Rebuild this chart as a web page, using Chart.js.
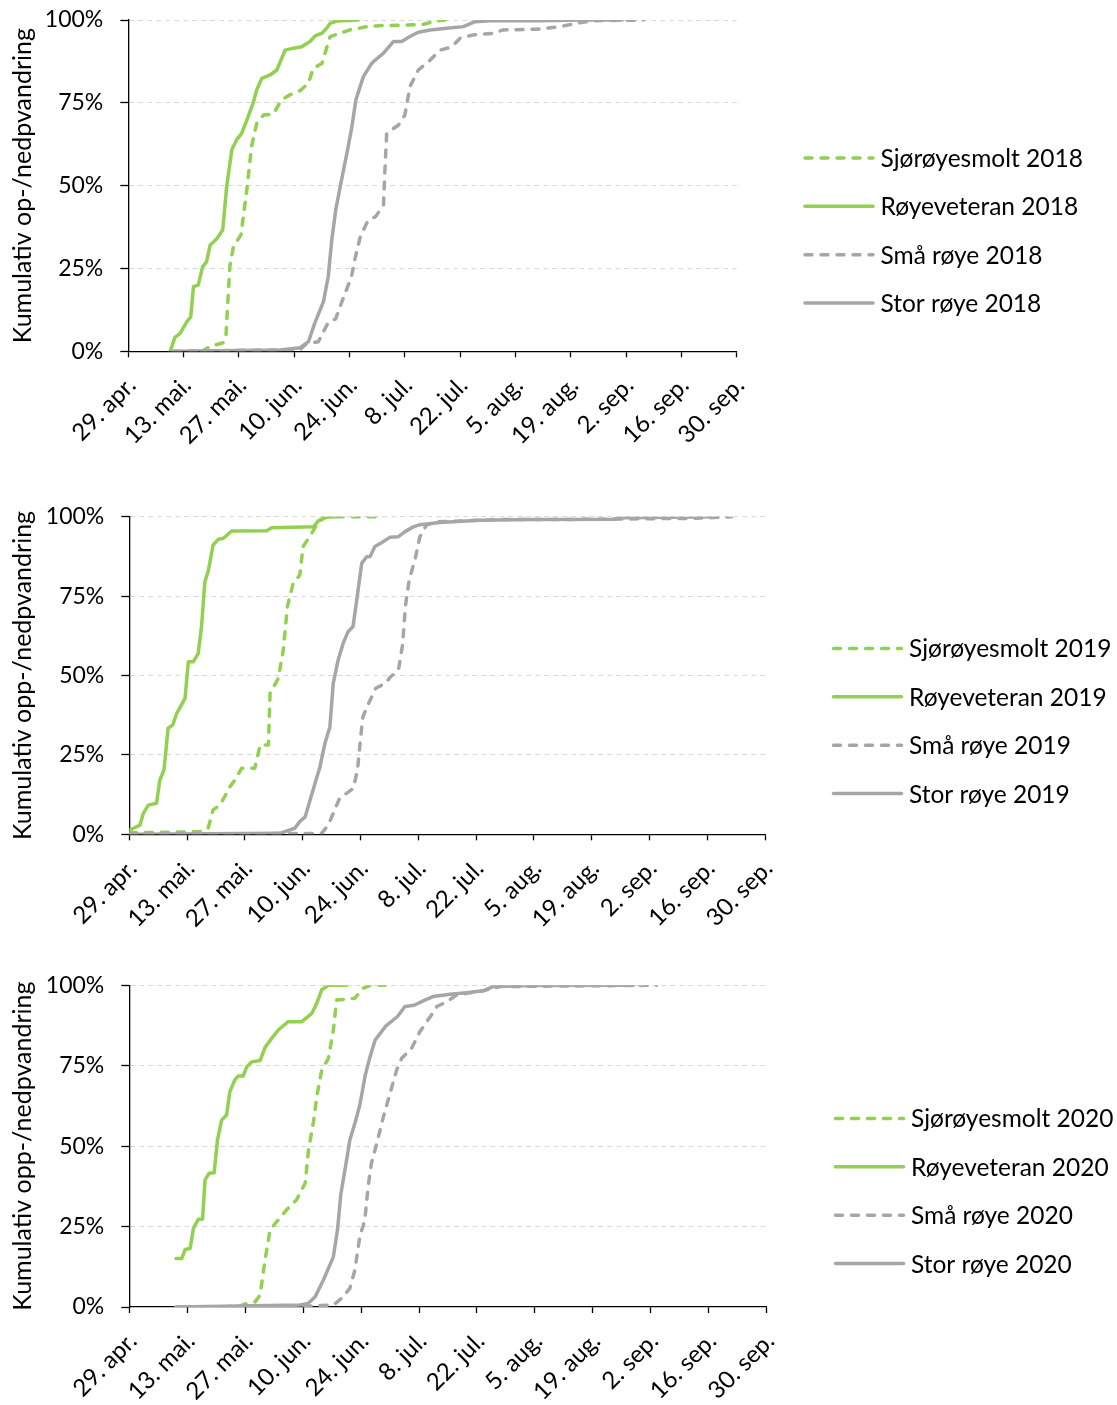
<!DOCTYPE html>
<html lang="no">
<head>
<meta charset="utf-8">
<title>Kumulativ opp-/nedpvandring 2018–2020</title>
<script src="https://cdn.jsdelivr.net/npm/chart.js@4.4.1/dist/chart.umd.min.js"></script>
<style>
  html, body { margin: 0; padding: 0; background: #fff; }
  #wrap { position: relative; width: 1117px; height: 1405px; overflow: hidden; }
  canvas { position: absolute; left: 0; }
</style>
</head>
<body>
<div id="wrap">
  <canvas id="c2018" width="1117" height="468" style="top:0px"></canvas>
  <canvas id="c2019" width="1117" height="468" style="top:468px"></canvas>
  <canvas id="c2020" width="1117" height="480" style="top:936px"></canvas>
</div>
<script>
// x values are days counted from 29 April; y values are cumulative percent.
const tickLabels = ['29. apr.', '13. mai.', '27. mai.', '10. jun.', '24. jun.', '8. jul.',
                    '22. jul.', '5. aug.', '19. aug.', '2. sep.', '16. sep.', '30. sep.'];
const seriesNames = ['Sjørøyesmolt', 'Røyeveteran', 'Små røye', 'Stor røye'];
const years = [2018, 2019, 2020];

// 2018
const smolt2018 = [[18.6,0],[20.7,1.4],[24,2.6],[24.7,4.4],[25.7,25.5],[26.6,31.6],[28.5,35.1],[30,48.7],
  [31.2,61.8],[32.5,68.8],[34.2,71.3],[36.7,71.6],[38.8,75.9],[40.9,77.4],[43.5,78.7],[45.6,80.9],
  [46.8,85.4],[49,86.9],[51.1,95],[53.6,96],[56.1,97],[60.4,98],[63.7,98.3],[68,98.4],[74.7,98.7],
  [78,99.7],[80.2,100]];
const veteran2018 = [[10.6,0],[11.8,4.2],[13.1,5.4],[14.8,8.9],[15.8,10.4],[16.5,19.5],[17.7,20],
  [18.8,25.5],[19.8,27],[20.7,32],[22.4,34],[23.9,36.6],[24.9,49.7],[26.2,60.8],[27.4,63.8],[28.7,65.8],
  [30,69.8],[31.6,74.9],[32.5,78.9],[33.8,82.4],[35.9,83.4],[37.6,84.9],[39.7,90.9],[41.8,91.5],
  [43.9,91.9],[46,93.5],[47.3,95.2],[49,96],[50.2,97.5],[51.1,99],[52.8,99.7],[58.2,100]];
const small2018 = [[11.4,0],[43.5,0.5],[45.2,2.4],[48.1,2.9],[50.6,8.7],[52.5,9.8],[54.7,17],[56.5,22.5],
  [57.2,27],[58.7,34.5],[60.6,39.3],[62.7,40.8],[64.6,44.2],[65,55.7],[65.4,65.8],[68.4,68.3],[70,71.3],
  [71.3,79.9],[73.4,84.9],[76.4,87.9],[78.9,90.9],[81.9,91.9],[84,94.5],[87.3,95.5],[92.4,96],[94.9,97],
  [103.4,97.2],[109.3,98],[114.3,99.2],[118.6,99.8],[130.4,100]];
const large2018 = [[11.4,0],[38.4,0.4],[43.5,1.1],[45.6,2.9],[47.2,8.5],[49.4,15],[50.6,22.5],[51.5,33.6],
  [52.5,42.6],[53.8,50.7],[55.5,60.8],[56.6,67.8],[57.6,75.9],[59.5,82.9],[61.6,86.9],[62.5,87.9],
  [64.6,90],[67.1,93.5],[69.2,93.5],[71.3,95],[73.4,96.3],[76.4,97],[80.6,97.5],[84.8,98],[87.8,99.5],
  [91.6,99.8],[104.2,99.8],[114.3,100],[125,100]];

// 2019
const smolt2019 = [[0,0.5],[17.1,0.8],[19.1,1.9],[20.3,7.7],[22,9.2],[24.4,15],[25.6,17.1],[27.2,20.8],
  [30.4,20.8],[31.7,28.1],[33.7,28.1],[34.1,44.4],[36.1,49.1],[37.3,58],[38.3,71.7],[39.7,79],[41.3,81.6],
  [42.1,90.6],[44.2,94.8],[45.8,98.4],[47.8,100],[61.5,100]];
const veteran2019 = [[0,1.4],[1,1.9],[2.6,2.9],[3.4,6.6],[4.6,9.2],[6.6,9.8],[7.4,17.1],[8.4,20.2],
  [9.4,33.4],[10.5,34.4],[11.5,38.1],[13.5,42.8],[14.3,54.3],[15.5,54.3],[16.7,57],[17.5,65.4],[18.3,79.5],
  [19.1,82.7],[20.3,91.1],[21.6,92.9],[22.8,93.2],[24.8,95.5],[33.3,95.6],[34.5,96.5],[44.6,96.8],
  [45.8,98.7],[47.4,99.8],[49.4,100],[50,100]];
const small2019 = [[0,0],[46.6,0.3],[48.2,2.9],[49.4,6.6],[51,11.5],[52.6,12.9],[54.3,14.5],[55.3,20.5],
  [56,30],[56.6,37],[57.8,40.7],[59.7,46],[62,47.5],[63.3,49.6],[65.2,51.7],[66.2,59.6],[66.9,72],
  [67.8,80.1],[69.2,86.4],[70.4,93.7],[72,97.4],[74.5,98.4],[80.9,98.7],[89,99.1],[105.1,99.1],
  [121.3,99.3],[137.4,99.5],[145.9,100]];
const large2019 = [[0,0],[36.5,0.3],[38.9,1.4],[40.1,1.9],[41.3,4],[42.6,5.5],[43.8,10.8],[45,16.1],
  [46.2,21.3],[47.4,28.7],[48.6,33.9],[49.4,47.5],[50.6,54.9],[51.8,60.1],[53,63.8],[54.2,65.4],[55.1,73.8],
  [56.3,85.3],[57.5,87.4],[58.3,87.4],[59.5,90.6],[61.1,91.8],[63.1,93.5],[65.2,93.7],[66.8,95.3],
  [68.8,96.8],[70.4,97.5],[75.2,98.2],[84.9,98.9],[97,99.1],[117.2,99.2],[119.6,99.7],[142.3,100]];

// 2020
const smolt2020 = [[26.6,0.3],[28.4,1.1],[30.4,1.6],[31.6,3.7],[32.8,14.6],[34,23.9],[35.6,26.5],[38,30.2],
  [40.4,33.3],[42.5,38.5],[43.3,48.8],[44.5,57.6],[45.3,65.4],[46.5,73.7],[48.1,77.3],[49.3,86.1],
  [50.1,95.4],[54.5,96],[56.5,99.1],[58.2,100],[61.8,100]];
const veteran2020 = [[11.3,15.1],[12.7,15.1],[13.5,17.9],[14.7,18.2],[15.5,24.5],[16.7,27.3],[17.7,27.3],
  [18.3,39.5],[19.3,41.6],[20.5,41.7],[21.3,51.9],[22.3,58.1],[23.5,59.7],[24.3,66.9],[25.5,70.6],
  [26.3,71.8],[27.5,71.8],[28.4,74.7],[29.6,76.2],[31.6,76.6],[32.8,80.7],[34.4,83.5],[36,86.1],
  [38.4,88.7],[41.7,88.7],[44.1,91.3],[45.3,94.4],[46.5,98.6],[48.1,100],[52.5,100]];
const small2020 = [[11.3,0],[43.7,0.3],[49.3,0.6],[51.3,2.7],[53.3,5.8],[54.5,11.5],[55.7,21.9],[56.9,27],
  [57.7,37.4],[58.5,44.7],[59.8,50.9],[61.4,59.2],[63,66.4],[64.6,73.7],[65.8,77.3],[68.2,80.4],
  [70.2,85.6],[72.7,90.2],[74.3,93.4],[76.7,94.9],[79.1,97],[85.5,98.3],[89.6,99.6],[105.7,99.8],
  [127.4,100]];
const large2020 = [[11.3,0],[41.2,0.6],[43.2,1.1],[44.9,3.2],[46.9,8.4],[49.3,15.6],[50.3,24],[51.1,35],
  [52.1,42.6],[53.3,52],[54.5,57.1],[55.7,62.8],[57,72],[58.1,77.5],[59.4,83],[62,87.4],[64.8,90.3],
  [66.6,93.4],[68.8,93.8],[71.4,95.4],[73.4,96.5],[77.5,97.2],[81.5,97.7],[85.5,98.3],[87.9,99.6],
  [97.6,99.9],[121.8,100]];

const yTitles = ['Kumulativ op-/nedpvandring', 'Kumulativ opp-/nedpvandring', 'Kumulativ opp-/nedpvandring'];
const seriesByYear = [
  [smolt2018, veteran2018, small2018, large2018],
  [smolt2019, veteran2019, small2019, large2019],
  [smolt2020, veteran2020, small2020, large2020]
];

const GREEN = '#92D050';
const GRAY = '#A6A6A6';
const lineStyles = [
  { color: GREEN, dash: [7, 9] },
  { color: GREEN, dash: [] },
  { color: GRAY, dash: [7, 9] },
  { color: GRAY, dash: [] }
];
const FONT = 'Lato, "Open Sans", sans-serif';

// Panel geometry: plot-area edges inside each canvas, and legend placement.
const panels = [
  { id: 'c2018', yAxisW: 128.3, top: 20,   right: 1117 - 736.7, xAxisH: 468 - 351.3, legendX: 803.5, legendY: 230.5 },
  { id: 'c2019', yAxisW: 129.3, top: 48.7, right: 1117 - 765,   xAxisH: 468 - 366.3, legendX: 832,   legendY: 253 },
  { id: 'c2020', yAxisW: 129.3, top: 49.3, right: 1117 - 766.7, xAxisH: 480 - 371,   legendX: 834,   legendY: 255 }
];

// Legend drawn to the right of the plot, one row per dataset with a line sample.
const sideLegend = {
  id: 'sideLegend',
  afterDraw(chart, args, opts) {
    const ctx = chart.ctx;
    const sets = chart.data.datasets;
    const n = sets.length;
    ctx.save();
    sets.forEach((ds, i) => {
      const y = opts.centerY + (i - (n - 1) / 2) * opts.rowGap;
      ctx.beginPath();
      ctx.strokeStyle = ds.borderColor;
      ctx.lineWidth = ds.borderWidth;
      ctx.lineCap = 'round';
      ctx.setLineDash(ds.borderDash || []);
      ctx.moveTo(opts.x + 1.5, y);
      ctx.lineTo(opts.x + opts.lineLen - 1.5, y);
      ctx.stroke();
      ctx.setLineDash([]);
      ctx.fillStyle = '#000';
      ctx.font = opts.font;
      ctx.textBaseline = 'middle';
      ctx.textAlign = 'left';
      ctx.fillText(ds.label, opts.x + opts.lineLen + opts.gap, y + 1);
    });
    ctx.restore();
  }
};

panels.forEach((p, k) => {
  const datasets = seriesNames.map((name, i) => ({
    label: name + ' ' + years[k],
    data: seriesByYear[k][i].map(([x, y]) => ({ x, y })),
    borderColor: lineStyles[i].color,
    borderDash: lineStyles[i].dash,
    borderWidth: 3.5,
    borderCapStyle: 'round',
    borderJoinStyle: 'round',
    pointRadius: 0,
    tension: 0,
    fill: false,
    order: seriesNames.length - 1 - i
  }));

  new Chart(document.getElementById(p.id), {
    type: 'line',
    data: { datasets },
    plugins: [sideLegend],
    options: {
      responsive: false,
      animation: false,
      events: [],
      layout: { padding: { top: p.top, right: p.right, left: 0, bottom: 0 } },
      plugins: {
        legend: { display: false },
        tooltip: { enabled: false },
        sideLegend: { x: p.legendX, lineLen: 71, gap: 6, centerY: p.legendY, rowGap: 48.4, font: '24.5px ' + FONT }
      },
      scales: {
        x: {
          type: 'linear',
          min: 0,
          max: 154,
          afterFit(s) { s.height = p.xAxisH; },
          ticks: {
            stepSize: 14,
            autoSkip: false,
            maxRotation: 45,
            minRotation: 45,
            padding: 20.5,
            color: '#000',
            font: { family: FONT, size: 24, lineHeight: 0.41 },
            showLabelBackdrop: true,
            backdropColor: 'rgba(0,0,0,0)',
            backdropPadding: 0,
            callback: (v, i) => tickLabels[i]
          },
          grid: { drawOnChartArea: false, drawTicks: true, tickLength: 6, tickColor: '#000', tickWidth: 1.3 },
          border: { display: true, color: '#000', width: 1.3 }
        },
        y: {
          min: 0,
          max: 100,
          afterFit(s) {
            s.width = p.yAxisW;
            s.paddingTop = 0;
            s.paddingBottom = 0;
          },
          ticks: {
            stepSize: 25,
            padding: 17,
            color: '#000',
            font: { family: FONT, size: 23 },
            callback: v => v + '%'
          },
          grid: {
            color: c => (c.tick && c.tick.value === 0) ? 'rgba(0,0,0,0)' : '#D9D9D9',
            lineWidth: 1,
            tickLength: 8,
            tickColor: '#000',
            tickWidth: 1.3,
            tickBorderDash: []
          },
          border: { display: true, color: '#000', width: 1.3, dash: [5, 4] },
          title: {
            display: true,
            text: yTitles[k],
            color: '#000',
            font: { family: FONT, size: 25 },
            padding: { top: 8, bottom: 0 }
          }
        }
      }
    }
  });
});
</script>
</body>
</html>
